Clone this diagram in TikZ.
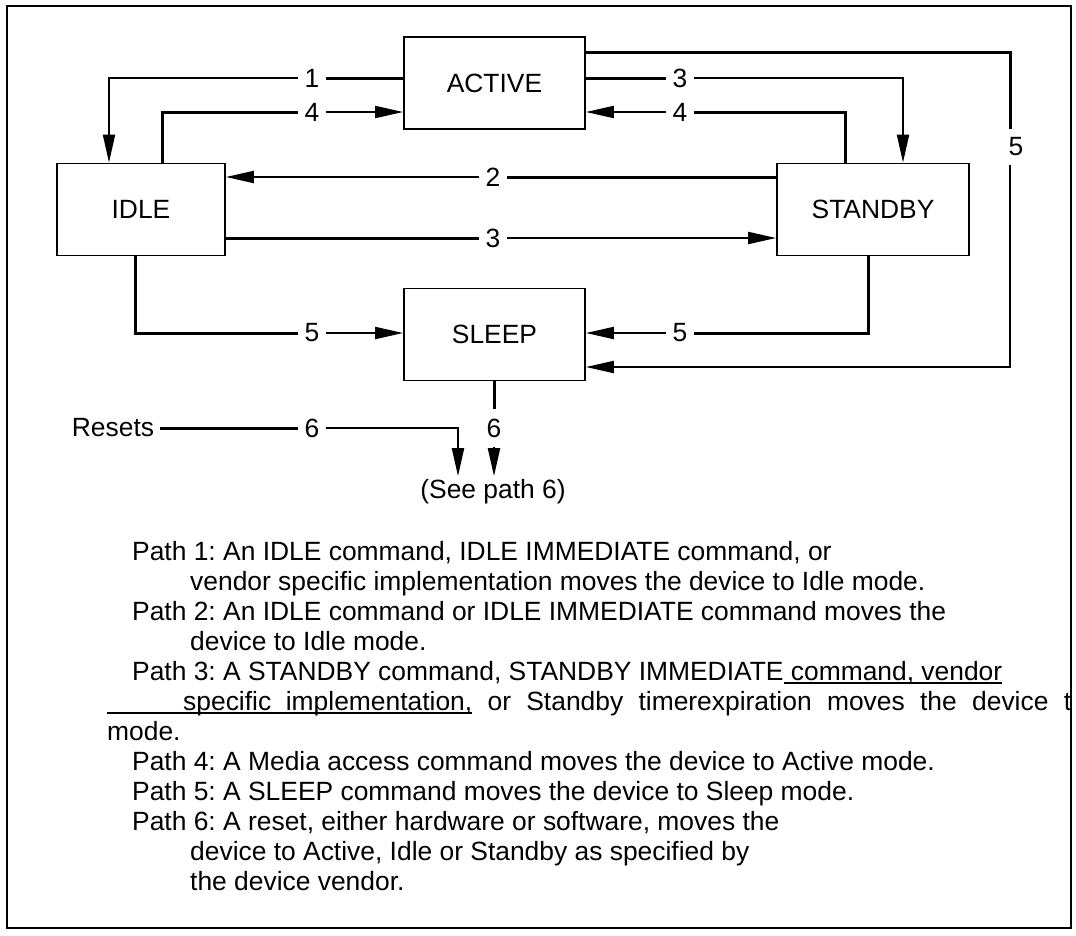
\documentclass[tikz,border=0pt]{standalone}
\usepackage{fontspec}
\setmainfont{Liberation Sans}
\usetikzlibrary{arrows.meta}
\frenchspacing
\newsavebox\undlbox
\newcommand{\undl}[1]{\sbox\undlbox{#1}\rlap{\rule[-3.5pt]{\wd\undlbox}{1.6pt}}\usebox\undlbox}

\begin{document}
\begin{tikzpicture}[x=1pt, y=-1pt, font=\fontsize{26.4}{30}\selectfont,
  st/.style={draw, line width=1.8pt, minimum width=181pt, minimum height=92pt},
  lbl/.style={inner xsep=6pt, inner ysep=9pt},
  ln/.style={line width=3pt},
  ar/.style={-{Triangle[length=28pt,width=12pt]}, line width=2pt},
  txt/.style={anchor=base west, inner sep=0pt}]
\useasboundingbox (0,0) rectangle (1076,935);
\draw[line width=2pt] (7,6) rectangle (1071,928);

% modes
\node[st] (act) at (494.5,83) {ACTIVE};
\node[st, minimum width=168pt] (idle) at (141,209.5) {IDLE};
\node[st, minimum width=192pt] (stby) at (873,209.5) {STANDBY};
\node[st] (sleep) at (494.5,334.5) {SLEEP};

% path numbers
\node[lbl] (l1) at (312,78) {1};
\node[lbl] (l4a) at (312,112) {4};
\node[lbl] (l3a) at (680,78) {3};
\node[lbl] (l4b) at (680,112) {4};
\node[lbl] (l5c) at (1016,147) {5};
\node[lbl] (l2) at (493,177) {2};
\node[lbl] (l3b) at (493,238) {3};
\node[lbl] (l5a) at (312,333) {5};
\node[lbl] (l5b) at (680,333) {5};
\node[lbl] (resets) at (113,428) {Resets};
\node[lbl] (l6a) at (312,428) {6};
\node[lbl] (l6b) at (494,428) {6};
\node (see) at (493,492) {(See path 6)};

\coordinate (c1) at (109,78);
\coordinate (c4a) at (162,112);
\coordinate (c3a) at (903,78);
\coordinate (c4b) at (845,112);
\coordinate (c5a) at (1010,52);
\coordinate (c5b) at (1010,367);
\coordinate (c5c) at (135,333);
\coordinate (c5d) at (868,333);
\coordinate (c6) at (458,428);

% transitions
\draw[ln] (act.west |- l1) -- (l1);
\draw[ar] (l1) -- (c1) -- (c1 |- idle.north);
\draw[ln] (c4a |- idle.north) -- (c4a) -- (l4a);
\draw[ar] (l4a) -- (act.west |- l4a);
\draw[ln] (act.east |- l3a) -- (l3a);
\draw[ar] (l3a) -- (c3a) -- (c3a |- stby.north);
\draw[ln] (c4b |- stby.north) -- (c4b) -- (l4b);
\draw[ar] (l4b) -- (act.east |- l4b);
\draw[ln] (act.east |- c5a) -- (c5a) -- (c5a |- l5c.north);
\draw[ar] (c5a |- l5c.south) -- (c5b) -- (sleep.east |- c5b);
\draw[ln] (stby.west |- l2) -- (l2);
\draw[ar] (l2) -- (idle.east |- l2);
\draw[ln] (idle.east |- l3b) -- (l3b);
\draw[ar] (l3b) -- (stby.west |- l3b);
\draw[ln] (c5c |- idle.south) -- (c5c) -- (l5a);
\draw[ar] (l5a) -- (sleep.west |- l5a);
\draw[ln] (c5d |- stby.south) -- (c5d) -- (l5b);
\draw[ar] (l5b) -- (sleep.east |- l5b);
\draw[ln] (resets) -- (l6a);
\draw[ar] (l6a) -- (c6) -- (c6 |- see.north);
\draw[ln] (l6b |- sleep.south) -- (l6b);
\draw[ar] (l6b) -- (see.north -| l6b);

% legend
\node[txt] (p1a) at (132,560) {Path 1: An IDLE command, IDLE IMMEDIATE command, or};
\node[txt] (p1b) at (190,590) {vendor specific implementation moves the device to Idle mode.};
\node[txt] (p2a) at (132,620) {Path 2: An IDLE command or IDLE IMMEDIATE command moves the};
\node[txt] (p2b) at (190,650) {device to Idle mode.};
\node[txt] (p3a) at (132,680) {Path 3: A STANDBY command, STANDBY IMMEDIATE\undl{ command, vendor}};
\node[txt] (p3b) at (107,710) {\makebox[964pt][s]{\undl{\hspace*{76pt}specific\ \ implementation,} or Standby timerexpiration moves the device t}};
\node[txt] (p3c) at (107,740) {mode.};
\node[txt] (p4) at (132,770) {Path 4: A Media access command moves the device to Active mode.};
\node[txt] (p5) at (132,800) {Path 5: A SLEEP command moves the device to Sleep mode.};
\node[txt] (p6a) at (132,830) {Path 6: A reset, either hardware or software, moves the};
\node[txt] (p6b) at (190,860) {device to Active, Idle or Standby as specified by};
\node[txt] (p6c) at (190,890) {the device vendor.};
\end{tikzpicture}
\end{document}
